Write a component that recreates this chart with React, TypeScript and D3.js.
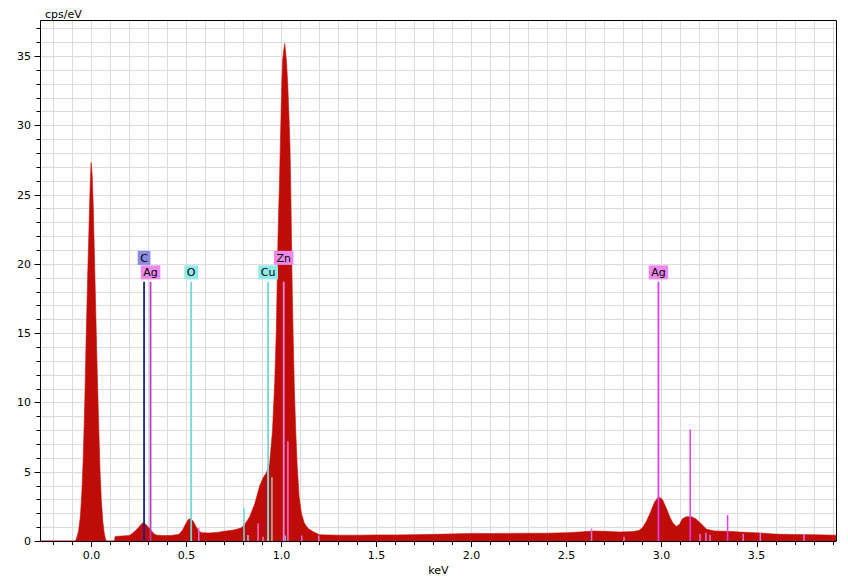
import React from "react";
import * as d3 from "d3";

// Spectrum: [keV, cps/eV]
const spectrum: [number, number][] = [
  [-0.268, 0], [-0.085, 0], [-0.078, 0.2], [-0.068, 0.7], [-0.058, 1.8], [-0.05, 3.6],
  [-0.043, 6.0], [-0.035, 10.0], [-0.028, 14.5], [-0.02, 19.0], [-0.013, 22.5], [-0.007, 25.5],
  [-0.002, 27.3], [0.004, 26.4], [0.01, 24.0], [0.016, 20.5], [0.022, 17.0], [0.03, 12.5],
  [0.038, 8.5], [0.045, 5.2], [0.052, 3.0], [0.06, 1.4], [0.067, 0.6], [0.073, 0.2],
  [0.078, 0], [0.121, 0], [0.125, 0.33], [0.16, 0.36], [0.2, 0.4], [0.22, 0.6],
  [0.24, 0.85], [0.255, 1.1], [0.27, 1.32], [0.285, 1.22], [0.3, 1.0], [0.315, 0.75],
  [0.33, 0.5], [0.345, 0.42], [0.38, 0.4], [0.42, 0.4], [0.46, 0.48], [0.48, 0.8],
  [0.495, 1.2], [0.51, 1.55], [0.52, 1.62], [0.535, 1.45], [0.55, 1.05], [0.565, 0.72],
  [0.58, 0.6], [0.62, 0.58], [0.66, 0.62], [0.7, 0.7], [0.75, 0.8], [0.79, 0.95],
  [0.81, 1.27], [0.833, 1.75], [0.86, 2.7], [0.886, 4.0], [0.905, 4.6], [0.92, 4.9],
  [0.938, 5.6], [0.953, 8.0], [0.965, 11.6], [0.973, 15.2], [0.978, 19.0], [0.982, 22.0],
  [0.986, 24.1], [0.99, 26.0], [0.994, 28.5], [0.998, 30.9], [1.002, 33.0], [1.006, 34.7],
  [1.012, 35.4], [1.017, 35.9], [1.022, 35.3], [1.027, 34.5], [1.033, 33.0], [1.039, 30.9],
  [1.045, 28.5], [1.049, 25.5], [1.053, 21.7], [1.057, 18.0], [1.061, 15.2], [1.068, 11.0],
  [1.075, 8.0], [1.083, 5.4], [1.093, 3.2], [1.105, 2.0], [1.12, 1.3], [1.14, 0.9],
  [1.17, 0.65], [1.2, 0.45], [1.3, 0.42], [1.4, 0.42], [1.5, 0.44], [1.6, 0.44],
  [1.7, 0.46], [1.8, 0.48], [1.87, 0.5], [2.0, 0.55], [2.1, 0.54], [2.2, 0.55],
  [2.3, 0.56], [2.39, 0.56], [2.5, 0.6], [2.57, 0.65], [2.64, 0.72], [2.7, 0.7],
  [2.78, 0.65], [2.85, 0.68], [2.88, 0.75], [2.9, 0.95], [2.92, 1.4], [2.94, 2.0],
  [2.963, 2.8], [2.985, 3.2], [3.005, 3.0], [3.026, 2.35], [3.045, 1.7], [3.06, 1.3],
  [3.078, 1.05], [3.095, 1.2], [3.11, 1.6], [3.13, 1.75], [3.158, 1.75], [3.18, 1.6],
  [3.205, 1.3], [3.237, 0.85], [3.28, 0.72], [3.35, 0.7], [3.41, 0.65], [3.52, 0.58],
  [3.59, 0.5], [3.7, 0.47], [3.81, 0.45], [3.921, 0.42],
];

// Labelled element markers
const markerElements = ["C", "Ag", "O", "Cu", "Zn", "Ag"];
const markerEnergies = [0.277, 0.311, 0.525, 0.93, 1.012, 2.984];
const markerRows = [1, 0, 0, 0, 1, 0];
const markerTop = 18.7;
const markerLineColors = ["#202080", "#b040c0", "#70d8d8", "#70d8d8", "#f080d8", "#e040e0"];
const markerBoxColors = ["#8c8ce0", "#ee88ee", "#90eaea", "#90eaea", "#f088ea", "#ee88ee"];

// Minor (unlabelled) lines
const minorEnergies = [0.565, 0.803, 0.824, 0.877, 0.903, 0.93, 0.95, 1.02, 1.034, 1.107, 1.196, 2.632, 2.803, 3.151, 3.203, 3.234, 3.256, 3.348, 3.43, 3.52, 3.75];
const minorHeights = [0.96, 2.4, 0.43, 1.27, 0.3, 5.2, 4.6, 0.4, 7.2, 0.4, 0.4, 0.9, 0.3, 8.05, 0.5, 0.6, 0.45, 1.87, 0.5, 0.6, 0.5];
const minorColors = ["#f070d0", "#70d8d8", "#a0c0e0", "#f070d0", "#f070d0", "#b8b8b8", "#b8b8b8", "#80b0f0", "#f070d0", "#f070d0", "#f070d0", "#e070e0", "#e070e0", "#e040e0", "#e070e0", "#e070e0", "#e070e0", "#e040e0", "#e070e0", "#e070e0", "#e070e0"];

const xMajorTicks = [0, 0.5, 1.0, 1.5, 2.0, 2.5, 3.0, 3.5];
const yMajorTicks = [0, 5, 10, 15, 20, 25, 30, 35];
const xDomain = [-0.268, 3.921];
const yDomain = [0, 37.56];

const FONT = "'DejaVu Sans', Verdana, sans-serif";

function textWidth(s: string): number {
  const c = document.createElement("canvas").getContext("2d");
  if (!c) return s.length * 7;
  c.font = "11px 'DejaVu Sans'";
  return c.measureText(s).width;
}

export default function App() {
  const W = 848, H = 579;
  const left = 40.5, right = 836.5, top = 20.5, bottom = 541;
  const x = d3.scaleLinear().domain(xDomain).range([left, right]);
  const y = d3.scaleLinear().domain(yDomain).range([bottom, top]);

  const xMinor = d3.range(-2, 40).map((i) => i / 10).filter((v) => v >= xDomain[0] && v <= xDomain[1]);
  const yMinor = d3.range(1, 38).filter((v) => v <= yDomain[1]);

  const area = d3
    .area<[number, number]>()
    .x((d) => x(d[0]))
    .y0(y(0))
    .y1((d) => y(d[1]))
    .curve(d3.curveLinear);

  return (
    <div style={{ position: "fixed", left: 0, top: 0, width: W, height: H, background: "#fff" }}>
      <svg width={W} height={H} style={{ display: "block" }} fontFamily={FONT} fontSize={11}>
        <rect x={0} y={0} width={W} height={H} fill="#fff" />
        {/* grid */}
        <g stroke="#dcdcdc" strokeWidth={1}>
          {xMinor.map((v) => (
            <line key={"gx" + v} x1={Math.round(x(v)) + 0.5} x2={Math.round(x(v)) + 0.5} y1={top} y2={bottom} />
          ))}
          {yMinor.map((v) => (
            <line key={"gy" + v} x1={left} x2={right} y1={Math.round(y(v)) + 0.5} y2={Math.round(y(v)) + 0.5} />
          ))}
        </g>
        {/* spectrum */}
        <path d={area(spectrum) || ""} fill="#c00c06" stroke="#c8100a" strokeWidth={0.6} />
        {/* minor lines */}
        <g strokeWidth={1.5}>
          {minorEnergies.map((e, i) => (
            <line key={"ml" + i} x1={x(e)} x2={x(e)} y1={y(0)} y2={y(minorHeights[i])} stroke={minorColors[i]} />
          ))}
        </g>
        {/* labelled markers */}
        <g>
          {markerEnergies.map((e, i) => (
            <line key={"mk" + i} x1={x(e)} x2={x(e)} y1={y(0)} y2={y(markerTop)} stroke={markerLineColors[i]} strokeWidth={1.8} />
          ))}
          {markerElements.map((s, i) => {
            const w = textWidth(s) + 5;
            const bh = 14;
            const by = y(markerTop) - 2.5 - bh - markerRows[i] * 14.5;
            const cx = x(markerEnergies[i]);
            return (
              <g key={"lb" + i}>
                <rect x={cx - w / 2} y={by} width={w} height={bh} fill={markerBoxColors[i]} />
                <text x={cx} y={by + bh - 3} textAnchor="middle" fill="#000">
                  {s}
                </text>
              </g>
            );
          })}
        </g>
        {/* frame */}
        <g stroke="#000" strokeWidth={1} fill="none">
          <line x1={left} x2={right} y1={top} y2={top} />
          <line x1={right} x2={right} y1={top} y2={bottom} />
          <line x1={left} x2={left} y1={top} y2={bottom} />
          <line x1={left} x2={right} y1={bottom + 0.5} y2={bottom + 0.5} />
          {xMinor.map((v) => (
            <line key={"tx" + v} x1={Math.round(x(v)) + 0.5} x2={Math.round(x(v)) + 0.5} y1={bottom} y2={bottom + 4} />
          ))}
          {xMajorTicks.map((v) => (
            <line key={"tX" + v} x1={Math.round(x(v)) + 0.5} x2={Math.round(x(v)) + 0.5} y1={bottom} y2={bottom + 6} />
          ))}
          {yMinor.map((v) => (
            <line key={"ty" + v} x1={left - 4} x2={left} y1={Math.round(y(v)) + 0.5} y2={Math.round(y(v)) + 0.5} />
          ))}
          {yMajorTicks.map((v) => (
            <line key={"tY" + v} x1={left - 6} x2={left} y1={Math.round(y(v)) + 0.5} y2={Math.round(y(v)) + 0.5} />
          ))}
        </g>
        {/* tick labels */}
        <g fill="#000">
          {xMajorTicks.map((v) => (
            <text key={"lx" + v} x={x(v)} y={559} textAnchor="middle">
              {d3.format(".1f")(v)}
            </text>
          ))}
          {yMajorTicks.map((v) => (
            <text key={"ly" + v} x={31} y={y(v) + 4} textAnchor="end">
              {v}
            </text>
          ))}
          <text x={45} y={17.5}>cps/eV</text>
          <text x={(left + right) / 2} y={573.5} textAnchor="middle">keV</text>
        </g>
      </svg>
    </div>
  );
}
